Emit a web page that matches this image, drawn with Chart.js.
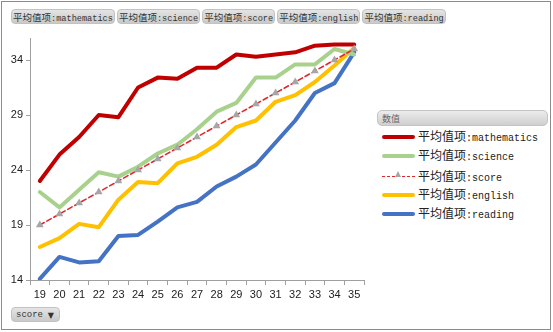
<!DOCTYPE html>
<html>
<head>
<meta charset="utf-8">
<script src="https://cdn.jsdelivr.net/npm/chart.js@4/dist/chart.umd.min.js"></script>
<style>
  html, body { margin: 0; padding: 0; background: #fff; }
  body { width: 553px; height: 332px; position: relative; overflow: hidden; }
  #frame { position: absolute; left: 1px; top: 1px; width: 548px; height: 327px; border: 1px solid #8c8c8c; }
  #pills { position: absolute; left: 11px; top: 9px; display: flex; gap: 2px; }
  .pill, #scoreBtn {
    height: 15px; line-height: 14px; padding: 0 1px;
    font-family: 'Liberation Mono', monospace; font-size: 8.6px; color: #333;
    background: linear-gradient(#e4e4e4, #c9c9c9); border: 1px solid #c2c2c2; border-radius: 4px;
    white-space: nowrap; box-sizing: border-box;
  }
  .cjk { font-family: 'Noto Sans CJK SC', sans-serif; }
  .pill .cjk { font-size: 9.5px; }
  #scoreBtn { position: absolute; left: 11px; top: 307px; width: 49px; padding: 0 4px; font-size: 9px; line-height: 15px; }
  #scoreBtn span { position: absolute; right: 5px; top: 0; font-size: 8px; color: #333; font-family: 'DejaVu Sans', sans-serif; }
  #canvasWrap { position: absolute; left: 0; top: 0; width: 375px; height: 305px; }
  #legend { position: absolute; left: 377px; top: 110px; width: 171px; }
  #legHead {
    height: 16px; line-height: 16px; padding-left: 4px; box-sizing: border-box;
    font-family: 'Noto Sans CJK SC', sans-serif; font-size: 9px; color: #666;
    background: linear-gradient(#ececec, #cfcfcf); border: 1px solid #c4c4c4; border-radius: 5px;
  }
  .item { position: absolute; left: 5px; height: 14px; color: #222; white-space: nowrap; }
  .item .sample { position: absolute; left: 0; top: 6px; width: 33px; }
  .item .txt { position: absolute; left: 36px; top: -2px; line-height: 16px; font-family: 'Liberation Mono', monospace; font-size: 10px; }
  .item .txt .cjk { font-size: 12px; }
</style>
</head>
<body>
<div id="frame"></div>
<div id="pills"></div>
<div id="canvasWrap"><canvas id="c" width="375" height="305"></canvas></div>
<div id="legend"><div id="legHead">数值</div></div>
<div id="scoreBtn">score<span>▼</span></div>
<script>
const categories = ['19','20','21','22','23','24','25','26','27','28','29','30','31','32','33','34','35'];
const mathematics = [23.0,25.4,27.0,29.0,28.8,31.5,32.4,32.3,33.3,33.3,34.5,34.3,34.5,34.7,35.3,35.4,35.4];
const science     = [22.0,20.6,22.2,23.8,23.4,24.3,25.5,26.3,27.7,29.3,30.1,32.4,32.4,33.6,33.6,35.0,34.5];
const score       = [19,20,21,22,23,24,25,26,27,28,29,30,31,32,33,34,35];
const english     = [17.0,17.8,19.1,18.8,21.3,22.9,22.8,24.6,25.2,26.3,27.9,28.5,30.2,30.8,32.0,33.5,35.1];
const reading     = [14.1,16.1,15.6,15.7,18.0,18.1,19.3,20.6,21.1,22.5,23.4,24.5,26.5,28.5,31.0,31.9,34.7];
const yTicks = [14,19,24,29,34];
const seriesPrefix = '平均值项';
const seriesKeys = ['mathematics','science','score','english','reading'];
const seriesNames = seriesKeys.map(k => seriesPrefix + ':' + k);

const colors = ['#c00000','#a9d18e','#e0282e','#ffc000','#4472c4'];

function fillName(el, key) {
  const c = document.createElement('span'); c.className = 'cjk'; c.textContent = seriesPrefix;
  el.appendChild(c);
  el.appendChild(document.createTextNode(':' + key));
}

// top pills
const pills = document.getElementById('pills');
seriesKeys.forEach(k => { const d = document.createElement('div'); d.className = 'pill'; fillName(d, k); pills.appendChild(d); });

// legend
const leg = document.getElementById('legend');
const rowY = [20, 39, 60, 78, 97];
seriesKeys.forEach((k, i) => {
  const it = document.createElement('div'); it.className = 'item'; it.style.top = rowY[i] + 'px';
  const s = document.createElement('div'); s.className = 'sample';
  if (i === 2) {
    s.style.borderTop = '1.5px dashed ' + colors[2];
    s.style.top = '6px';
    const t = document.createElement('div');
    t.style.cssText = 'position:absolute;left:13px;top:-6px;width:0;height:0;border-left:3.5px solid transparent;border-right:3.5px solid transparent;border-bottom:6px solid #a6a6a6;';
    s.appendChild(t);
  } else {
    s.style.height = '4px'; s.style.top = '5px'; s.style.background = colors[i]; s.style.borderRadius = '2px';
  }
  const tx = document.createElement('div'); tx.className = 'txt'; fillName(tx, k);
  it.appendChild(s); it.appendChild(tx); leg.appendChild(it);
});

const allData = [mathematics, science, score, english, reading];
const datasets = allData.map((d, i) => {
  const base = {
    label: seriesNames[i], data: d, borderColor: colors[i], backgroundColor: colors[i],
    tension: 0, fill: false, borderJoinStyle: 'round', borderCapStyle: 'round'
  };
  if (i === 2) {
    return Object.assign(base, { borderWidth: 1.6, borderDash: [5, 3], pointStyle: 'triangle', pointRadius: 4.5,
      pointBackgroundColor: '#a6a6a6', pointBorderColor: '#a6a6a6', pointBorderWidth: 0, order: 0 });
  }
  return Object.assign(base, { borderWidth: 4, pointRadius: 0, order: 1 });
});

Chart.defaults.font.family = "'Liberation Sans', Arial, sans-serif";
new Chart(document.getElementById('c'), {
  type: 'line',
  data: { labels: categories, datasets },
  options: {
    responsive: false, animation: false, devicePixelRatio: 1,
    layout: { padding: { top: 38, right: 11, left: 0, bottom: 0 } },
    plugins: { legend: { display: false }, tooltip: { enabled: false } },
    scales: {
      x: {
        offset: true,
        grid: { drawOnChartArea: false, drawTicks: true, tickLength: 5, color: '#a0a0a0', offset: true },
        border: { color: '#a0a0a0', width: 1 },
        ticks: { color: '#222', font: { size: 11 }, padding: 3, maxRotation: 0, autoSkip: false },
        afterFit: s => { s.height = 25; }
      },
      y: {
        min: 14, max: 36,
        afterBuildTicks: s => { s.ticks = yTicks.map(v => ({ value: v })); },
        grid: { drawOnChartArea: false, drawTicks: true, tickLength: 4, color: '#a0a0a0' },
        border: { color: '#a0a0a0', width: 1 },
        ticks: { color: '#222', font: { size: 11 }, padding: 3 },
        afterFit: s => { s.width = 30; }
      }
    }
  }
});
</script>
</body>
</html>
